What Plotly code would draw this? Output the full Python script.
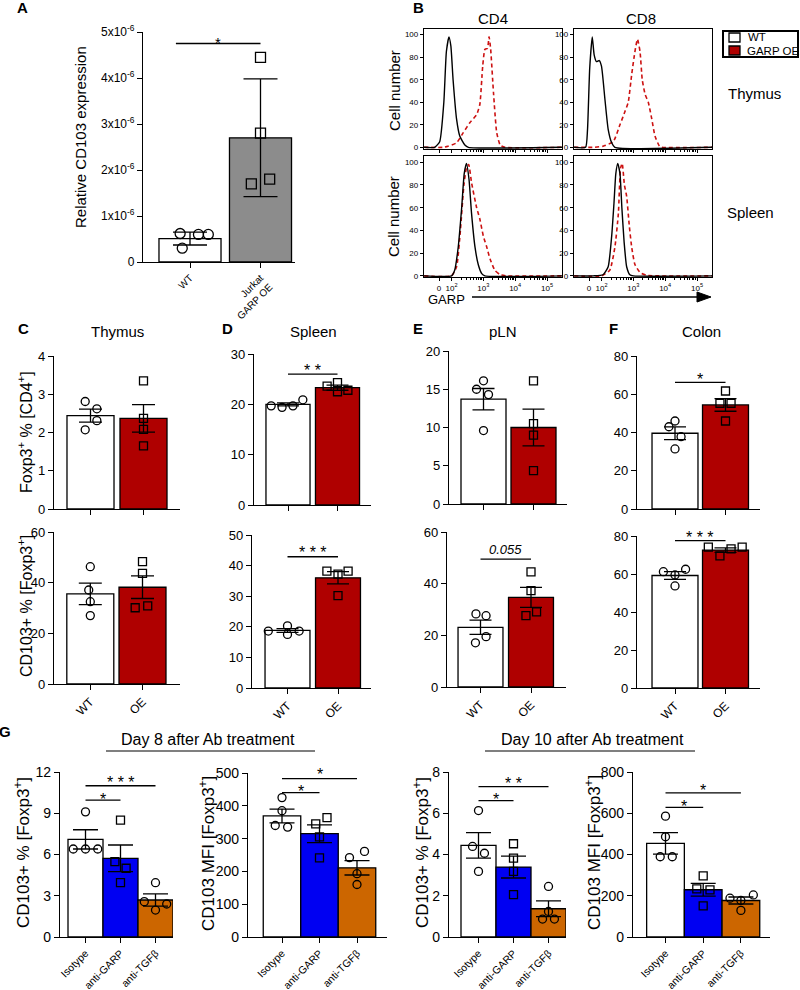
import math
import plotly.graph_objects as go

W, H = 800, 990
FONT = "Liberation Sans, Arial, Helvetica, sans-serif"
RED = "#AF0000"
BLUE = "#0000F2"
ORANGE = "#CC6600"
GRAY = "#8C8C8C"
HRED = "#CC1111"

# ======================= DATA =======================
# Panel A
A_groups = ["WT", "Jurkat<br>GARP OE"]
A_mean = [0.51e-6, 2.70e-6]
A_sem = [0.14e-6, 1.28e-6]
A_pts_wt = [0.62e-6, 0.60e-6, 0.60e-6, 0.30e-6]
A_pts_oe = [4.45e-6, 2.80e-6, 1.70e-6, 1.80e-6]
A_yticks = [0, 1e-6, 2e-6, 3e-6, 4e-6, 5e-6]
A_yticklabels = ["0", "1x10<sup>-6</sup>", "2x10<sup>-6</sup>", "3x10<sup>-6</sup>",
                 "4x10<sup>-6</sup>", "5x10<sup>-6</sup>"]
A_sig = [(-0.2, 1.0, 4.75e-6, "*", 4.86e-6)]

# Panel B histograms (x: GARP intensity in log decades, y: % of max)
B_xticks = [1.61, 2, 3, 4, 5]
B_xticklabels = ["0", "10<sup>2</sup>", "10<sup>3</sup>", "10<sup>4</sup>", "10<sup>5</sup>"]
B_yticks = [0, 20, 40, 60, 80, 100]
B_cd4_thy_wt_x = [1.14, 1.47, 1.63, 1.76, 1.84, 1.92, 1.98, 2.05, 2.16, 2.26, 2.42, 2.53, 5.47]
B_cd4_thy_wt_y = [0, 0, 5, 40, 85, 98, 90, 60, 25, 10, 2, 0, 0]
B_cd4_thy_oe_x = [1.14, 1.74, 1.89, 2.16, 2.37, 2.58, 2.79, 2.89, 2.98, 3.05, 3.13, 3.18, 3.23,
                  3.32, 3.42, 3.53, 3.68, 5.47]
B_cd4_thy_oe_y = [0, 0, 1, 4, 13, 22, 29, 38, 72, 87, 88, 98, 87, 48, 13, 2, 0, 0]
B_cd8_thy_wt_x = [1.14, 1.50, 1.56, 1.63, 1.71, 1.77, 1.84, 1.93, 2.0, 2.11, 2.21, 2.32, 2.42, 5.47]
B_cd8_thy_wt_y = [0, 0, 15, 70, 98, 82, 76, 77, 72, 42, 16, 4, 0, 0]
B_cd8_thy_oe_x = [1.14, 1.74, 2.05, 2.37, 2.58, 2.74, 2.84, 2.95, 3.05, 3.13, 3.21, 3.28, 3.37,
                  3.47, 3.58, 3.68, 3.82, 3.89, 5.47]
B_cd8_thy_oe_y = [0, 0, 1, 5, 20, 32, 40, 65, 85, 96, 85, 60, 47, 40, 25, 10, 1, 0, 0]
B_cd4_spl_wt_x = [1.14, 2.0, 2.1, 2.21, 2.32, 2.4, 2.47, 2.55, 2.63, 2.74, 2.84, 2.95, 3.05, 5.47]
B_cd4_spl_wt_y = [0, 0, 5, 25, 60, 90, 99, 85, 55, 25, 10, 2, 0, 0]
B_cd4_spl_oe_x = [1.14, 2.0, 2.16, 2.28, 2.39, 2.47, 2.54, 2.63, 2.79, 2.89, 3.0, 3.1, 3.21,
                  3.36, 3.53, 3.74, 5.47]
B_cd4_spl_oe_y = [0, 0, 8, 40, 80, 95, 98, 82, 60, 50, 35, 26, 15, 5, 1, 0, 0]
B_cd8_spl_wt_x = [1.14, 1.74, 2.05, 2.21, 2.32, 2.39, 2.45, 2.51, 2.58, 2.64, 2.71, 2.79, 2.89, 3.0, 5.47]
B_cd8_spl_wt_y = [0, 0, 1, 8, 35, 63, 90, 99, 90, 60, 30, 8, 1, 0, 0]
B_cd8_spl_oe_x = [1.14, 2.0, 2.26, 2.42, 2.53, 2.6, 2.65, 2.72, 2.79, 2.87, 2.95, 3.05, 3.21, 3.42, 5.47]
B_cd8_spl_oe_y = [0, 0, 5, 25, 55, 95, 99, 80, 70, 45, 25, 10, 3, 0.5, 0]

# Panels C-F
CF_groups = ["WT", "OE"]
C_top_mean = [2.44, 2.37];  C_top_sem = [0.17, 0.36]
C_top_wt = [2.81, 2.62, 2.31, 2.07];  C_top_oe = [3.35, 2.37, 2.08, 1.65]
D_top_mean = [20.0, 23.3];  D_top_sem = [0.3, 0.5]
D_top_wt = [19.7, 19.4, 19.7, 20.9];  D_top_oe = [23.6, 24.3, 22.5, 22.8]
D_top_sig = [(0, 1, 26.0, "* *", 27.6)]
E_top_mean = [13.7, 10.0];  E_top_sem = [1.4, 2.4]
E_top_wt = [16.1, 15.0, 14.3, 9.6];  E_top_oe = [16.1, 10.5, 9.0, 4.35]
F_top_mean = [39.6, 54.4];  F_top_sem = [3.3, 3.3]
F_top_wt = [46.0, 43.0, 37.8, 31.4];  F_top_oe = [61.7, 55.3, 55.3, 46.0]
F_top_sig = [(0, 1, 66.2, "*", 70.0)]

C_bot_mean = [35.6, 38.2];  C_bot_sem = [4.25, 4.45]
C_bot_wt = [46.3, 37.1, 32.5, 27.0];  C_bot_oe = [48.3, 43.7, 30.1, 30.8]
D_bot_mean = [18.8, 36.0];  D_bot_sem = [0.6, 2.0]
D_bot_wt = [20.3, 18.6, 18.6, 17.5];  D_bot_oe = [38.2, 38.2, 37.2, 30.2]
D_bot_sig = [(0, 1, 42.9, "* * *", 45.6)]
E_bot_mean = [23.1, 34.7];  E_bot_sem = [2.75, 3.85]
E_bot_wt = [28.3, 27.6, 17.1, 19.5];  E_bot_oe = [44.6, 37.3, 27.6, 29.1]
E_bot_sig = [(0, 1, 49.5, "<i>0.055</i>", 53.3)]
F_bot_mean = [59.2, 72.6];  F_bot_sem = [2.0, 1.2]
F_bot_wt = [61.2, 62.5, 59.5, 53.7];  F_bot_oe = [74.1, 74.1, 73.2, 69.5]
F_bot_sig = [(0, 1, 77.6, "* * *", 81.4)]

# Panel G
G_groups = ["Isotype", "anti-GARP", "anti-TGFβ"]
G8_pct_mean = [7.10, 5.72, 2.69];  G8_pct_sem = [0.70, 0.97, 0.44]
G8_pct_pts = [[9.1, 6.4, 6.4, 6.4], [8.5, 5.48, 5.0, 3.95], [3.95, 2.57, 2.4, 1.96]]
G8_pct_sig = [(0, 1, 9.96, "*", 10.3), (0, 2, 11.0, "* * *", 11.5)]
G8_mfi_mean = [369, 315, 211];  G8_mfi_sem = [21, 27, 22]
G8_mfi_pts = [[425, 385, 340, 335], [345, 364, 305, 241], [242, 261, 193, 160]]
G8_mfi_sig = [(0, 1, 440, "*", 455), (0, 2, 483, "*", 508)]
G10_pct_mean = [4.44, 3.39, 1.37];  G10_pct_sem = [0.62, 0.53, 0.38]
G10_pct_pts = [[6.13, 4.39, 4.06, 3.18], [4.52, 3.82, 3.18, 2.05], [2.45, 1.24, 0.87, 0.87]]
G10_pct_sig = [(0, 1, 6.61, "*", 6.84), (0, 2, 7.29, "* *", 7.65)]
G10_mfi_mean = [454, 229, 177];  G10_mfi_sem = [52, 31, 17]
G10_mfi_pts = [[586, 486, 389, 389], [296, 233, 228, 151], [204, 188, 177, 129]]
G10_mfi_sig = [(0, 1, 628, "*", 652), (0, 2, 699, "*", 728)]

# ======================= STYLE / LAYOUT HELPERS =======================
fig = go.Figure()
ANN = []
SHP = []
AX = [0]


def paper(px, py):
    return px / W, 1 - py / H


def text(px, py, t, size, xanchor="center", yanchor="middle", angle=0, bold=False):
    if bold:
        t = "<b>" + t + "</b>"
    x, y = paper(px, py)
    ANN.append(dict(x=x, y=y, xref="paper", yref="paper", text=t, showarrow=False,
                    xanchor=xanchor, yanchor=yanchor, textangle=angle,
                    font=dict(size=size, family=FONT, color="black")))


def axes(x0, x1, yt, yb, xr, yr, xkw=None, ykw=None):
    AX[0] += 1
    k = AX[0]
    s = "" if k == 1 else str(k)
    base = dict(showgrid=False, zeroline=False, showline=True, linecolor="black",
                linewidth=1.3, ticks="outside", tickcolor="black", tickwidth=1.3,
                ticklen=4, automargin=False, fixedrange=True,
                tickfont=dict(family=FONT, color="black"))
    xa = dict(base, domain=[x0 / W, x1 / W], range=xr, anchor="y" + s)
    ya = dict(base, domain=[1 - yb / H, 1 - yt / H], range=yr, anchor="x" + s)
    if xkw:
        xa.update(xkw)
    if ykw:
        ya.update(ykw)
    fig.update_layout({"xaxis" + s: xa, "yaxis" + s: ya})
    return "x" + s, "y" + s


def bar_panel(geom, yr, yticks, means, sems, pts, colors, symbols, jit, labels,
              show_labels, sigs, yfont, xfont, cap, msize, yticktext=None, star_size=16):
    x0, x1, yt, yb, c0, s, bw = geom
    xr = [(x0 - c0) / s, (x1 - c0) / s]
    n = len(means)
    xkw = dict(tickmode="array", tickvals=list(range(n)),
               ticktext=labels if show_labels else [""] * n,
               tickangle=-45, tickfont=dict(size=xfont, family=FONT, color="black"), ticklen=5)
    ykw = dict(tickmode="array", tickvals=yticks,
               tickfont=dict(size=yfont, family=FONT, color="black"), ticklen=5)
    if yticktext:
        ykw["ticktext"] = yticktext
    xa, ya = axes(x0, x1, yt, yb, xr, yr, xkw, ykw)
    fig.add_trace(go.Bar(x=list(range(n)), y=means, width=bw,
                         marker=dict(color=colors, line=dict(color="black", width=1.3)),
                         error_y=dict(type="data", array=sems, visible=True, color="black",
                                      thickness=1.3, width=cap),
                         xaxis=xa, yaxis=ya, hoverinfo="skip"))
    for i in range(n):
        fig.add_trace(go.Scatter(x=[i + d for d in jit[i]], y=pts[i], mode="markers",
                                 marker=dict(symbol=symbols[i], size=msize, color="black",
                                             line=dict(color="black", width=1.3)),
                                 cliponaxis=False, xaxis=xa, yaxis=ya, hoverinfo="skip"))
    for (a, b, ly, t, ty) in sigs:
        fig.add_trace(go.Scatter(x=[a, b], y=[ly, ly], mode="lines",
                                 line=dict(color="black", width=1.3),
                                 xaxis=xa, yaxis=ya, hoverinfo="skip"))
        is_star = "*" in t
        # position in axis-domain units so texts above the axis top are still drawn
        yfrac = (ty - yr[0]) / (yr[1] - yr[0])
        ANN.append(dict(x=(a + b) / 2, y=yfrac, xref=xa, yref=ya + " domain", text=t,
                        showarrow=False, xanchor="center", yanchor="middle",
                        yshift=-4 if is_star else 0,
                        font=dict(size=star_size if is_star else 13, family=FONT, color="black")))
    return xa, ya


def hist_panel(x0, x1, yt, yb, yr, wt_x, wt_y, oe_x, oe_y, show_xlabels):
    minor_vals = [d + math.log10(k) for d in (2, 3, 4) for k in range(2, 10)]
    xkw = dict(mirror=True, tickmode="array", tickvals=B_xticks,
               ticktext=B_xticklabels if show_xlabels else [""] * len(B_xticks),
               ticklen=3, tickwidth=1, tickfont=dict(size=8, family=FONT, color="black"),
               minor=dict(tickmode="array", tickvals=minor_vals, ticks="outside",
                          ticklen=2, tickwidth=1, tickcolor="black"))
    ykw = dict(mirror=True, tickmode="array", tickvals=B_yticks, ticklen=3, tickwidth=1,
               tickfont=dict(size=8, family=FONT, color="black"))
    xa, ya = axes(x0, x1, yt, yb, [1.137, 5.47], yr, xkw, ykw)
    fig.add_trace(go.Scatter(x=oe_x, y=oe_y, mode="lines",
                             line=dict(color=HRED, width=1.6, dash="4px,3px", shape="spline", smoothing=0.5),
                             xaxis=xa, yaxis=ya, hoverinfo="skip"))
    fig.add_trace(go.Scatter(x=wt_x, y=wt_y, mode="lines",
                             line=dict(color="black", width=1.4, shape="spline", smoothing=0.5),
                             xaxis=xa, yaxis=ya, hoverinfo="skip"))


# ======================= PANEL A =======================
bar_panel((143, 295, 32, 262, 190, 70.5, 0.88), [0, 5e-6], A_yticks, A_mean, A_sem,
          [A_pts_wt, A_pts_oe], ["white", GRAY], ["circle-open", "square-open"],
          [[-0.14, 0.12, 0.26, -0.11], [0, 0, -0.13, 0.13]], A_groups, True, A_sig,
          12, 10, 17, 10, yticktext=A_yticklabels, star_size=15)
text(22, 7, "A", 15, bold=True)
text(80, 137, "Relative CD103 expression", 15, angle=-90)

# ======================= PANEL B =======================
hist_panel(424, 562, 29, 149, [-1.5, 105], B_cd4_thy_wt_x, B_cd4_thy_wt_y,
           B_cd4_thy_oe_x, B_cd4_thy_oe_y, False)
hist_panel(574, 712, 29, 149, [-1.5, 105], B_cd8_thy_wt_x, B_cd8_thy_wt_y,
           B_cd8_thy_oe_x, B_cd8_thy_oe_y, False)
hist_panel(424, 562, 156, 277, [-1.0, 105.5], B_cd4_spl_wt_x, B_cd4_spl_wt_y,
           B_cd4_spl_oe_x, B_cd4_spl_oe_y, True)
hist_panel(574, 712, 156, 277, [-1.0, 105.5], B_cd8_spl_wt_x, B_cd8_spl_wt_y,
           B_cd8_spl_oe_x, B_cd8_spl_oe_y, True)
text(418, 7, "B", 15, bold=True)
text(493, 18, "CD4", 15)
text(641, 18, "CD8", 15)
text(754, 93, "Thymus", 15)
text(750, 212, "Spleen", 15)
text(394, 91, "Cell number", 15, angle=-90)
text(394, 217, "Cell number", 15, angle=-90)
text(446, 300, "GARP", 13)


def rect(x0, y0, x1, y1, fill, lw=1.3):
    a0, b0 = paper(x0, y0)
    a1, b1 = paper(x1, y1)
    SHP.append(dict(type="rect", xref="paper", yref="paper", x0=a0, y0=b0, x1=a1, y1=b1,
                    fillcolor=fill, line=dict(color="black", width=lw)))


def hline(x0, x1, y, lw=1.2):
    a0, b = paper(x0, y)
    a1, _ = paper(x1, y)
    SHP.append(dict(type="line", xref="paper", yref="paper", x0=a0, y0=b, x1=a1, y1=b,
                    line=dict(color="black", width=lw)))


# legend of B
rect(723, 31, 798, 57, "white", 2)
rect(729, 33, 740, 42, "white", 1.3)
rect(729, 46, 740, 55, RED, 1.3)
text(746, 37.5, "WT", 11.5, xanchor="left")
text(745, 50.5, "GARP OE", 11.5, xanchor="left")

# GARP arrow
hline(472, 700, 297, 1.3)
p1 = paper(697, 292)
p2 = paper(711, 297)
p3 = paper(697, 302)
SHP.append(dict(type="path", xref="paper", yref="paper",
                path=f"M {p1[0]},{p1[1]} L {p2[0]},{p2[1]} L {p3[0]},{p3[1]} Z",
                fillcolor="black", line=dict(color="black", width=1)))

# ======================= PANELS C-F =======================
circ_sq = ["circle-open", "square-open"]
wo = ["white", RED]
# top row
bar_panel((54, 180, 356, 509, 90.5, 53, 0.887), [0, 4], [0, 1, 2, 3, 4], C_top_mean, C_top_sem,
          [C_top_wt, C_top_oe], wo, circ_sq, [[-0.1, 0.12, 0.12, -0.1], [0, 0, 0, 0]],
          CF_groups, False, [], 13, 12, 11.5, 8)
bar_panel((254, 371, 354, 505, 288, 49.5, 0.89), [0, 30], [0, 10, 20, 30], D_top_mean, D_top_sem,
          [D_top_wt, D_top_oe], wo, circ_sq,
          [[-0.34, -0.12, 0.1, 0.3], [-0.21, 0, 0, 0.21]],
          CF_groups, False, D_top_sig, 13, 12, 11, 8)
bar_panel((449, 567, 351, 504, 483.5, 50, 0.9), [0, 20], [0, 5, 10, 15, 20], E_top_mean, E_top_sem,
          [E_top_wt, E_top_oe], wo, circ_sq,
          [[0, -0.14, 0.1, 0], [0, 0, 0, 0]],
          CF_groups, False, [], 13, 12, 11, 8)
bar_panel((637, 760, 356, 509, 675, 50.5, 0.91), [0, 80], [0, 20, 40, 60, 80], F_top_mean, F_top_sem,
          [F_top_wt, F_top_oe], wo, circ_sq,
          [[0, -0.12, 0.12, 0], [0, -0.11, 0.11, 0]],
          CF_groups, False, F_top_sig, 13, 12, 11, 8)
# bottom row
bar_panel((54, 180, 532, 684, 90.3, 52.2, 0.9), [0, 60], [0, 20, 40, 60], C_bot_mean, C_bot_sem,
          [C_bot_wt, C_bot_oe], wo, circ_sq,
          [[0, -0.03, 0, 0], [0, 0, -0.14, 0.1]],
          CF_groups, True, [], 13, 12, 11.5, 8)
bar_panel((252, 371, 535, 688, 287.5, 50.5, 0.89), [0, 50], [0, 10, 20, 30, 40, 50], D_bot_mean, D_bot_sem,
          [D_bot_wt, D_bot_oe], wo, circ_sq,
          [[0, -0.38, 0.23, 0], [-0.22, 0.2, 0, 0]],
          CF_groups, True, D_bot_sig, 13, 12, 11, 8)
bar_panel((447, 566, 532, 687, 480.5, 50.5, 0.89), [0, 60], [0, 20, 40, 60], E_bot_mean, E_bot_sem,
          [E_bot_wt, E_bot_oe], wo, circ_sq,
          [[-0.09, 0.11, -0.1, 0.11], [0, 0, -0.1, 0.11]],
          CF_groups, True, E_bot_sig, 13, 12, 11, 8)
bar_panel((637, 760, 536, 688, 675, 50.5, 0.91), [0, 80], [0, 20, 40, 60, 80], F_bot_mean, F_bot_sem,
          [F_bot_wt, F_bot_oe], wo, circ_sq,
          [[-0.23, 0.21, 0, 0], [-0.34, 0.33, 0.11, -0.11]],
          CF_groups, True, F_bot_sig, 13, 12, 11, 8)

text(23, 328, "C", 15, bold=True)
text(227, 328, "D", 15, bold=True)
text(418, 328, "E", 15, bold=True)
text(613, 328, "F", 15, bold=True)
text(117, 332, "Thymus", 15)
text(313, 332, "Spleen", 15)
text(503, 332, "pLN", 15)
text(701, 332, "Colon", 15)
text(25, 432, "Foxp3<sup>+</sup> % [CD4<sup>+</sup>]", 16, angle=-90)
text(25, 606, "CD103+ % [Foxp3<sup>+</sup>]", 16, angle=-90)

# ======================= PANEL G =======================
g_cols = ["white", BLUE, ORANGE]
g_sym = ["circle-open", "square-open", "circle-open"]
bar_panel((60, 173, 772, 937, 85.5, 35, 1.0), [0, 12], [0, 3, 6, 9, 12], G8_pct_mean, G8_pct_sem,
          G8_pct_pts, g_cols, g_sym,
          [[0, -0.35, 0, 0.35], [0, -0.16, 0.16, 0], [0, -0.32, 0.32, 0]],
          G_groups, True, G8_pct_sig, 14, 10.5, 12.5, 8)
bar_panel((248, 387, 773, 937, 282, 37.5, 1.0), [0, 500], [0, 100, 200, 300, 400, 500],
          G8_mfi_mean, G8_mfi_sem, G8_mfi_pts, g_cols, g_sym,
          [[0, 0, -0.18, 0.15], [-0.1, 0.2, 0, 0], [-0.2, 0.2, 0, 0]],
          G_groups, True, G8_mfi_sig, 14, 10.5, 12.5, 8)
bar_panel((449, 566, 772, 937, 478.5, 35, 1.0), [0, 8], [0, 2, 4, 6, 8], G10_pct_mean, G10_pct_sem,
          G10_pct_pts, g_cols, g_sym,
          [[0, -0.17, 0.17, 0], [0, 0, 0, 0], [0, 0, -0.17, 0.17]],
          G_groups, True, G10_pct_sig, 14, 10.5, 12.5, 8)
bar_panel((633, 770, 772, 937, 665.5, 37.7, 1.0), [0, 800], [0, 200, 400, 600, 800],
          G10_mfi_mean, G10_mfi_sem, G10_mfi_pts, g_cols, g_sym,
          [[0, 0, -0.14, 0.18], [0, -0.17, 0.18, 0], [0.33, -0.29, 0, 0]],
          G_groups, True, G10_mfi_sig, 14, 10.5, 12.5, 8)

text(5, 731, "G", 15, bold=True)
text(208, 739, "Day 8 after Ab treatment", 16)
hline(106, 315, 751, 1.2)
text(592, 739, "Day 10 after Ab treatment", 16)
hline(485, 695, 751, 1.2)
text(22, 853, "CD103+ % [Foxp3<sup>+</sup>]", 17, angle=-90)
text(207, 853, "CD103 MFI [Foxp3<sup>+</sup>]", 17, angle=-90)
text(421, 853, "CD103+ % [Foxp3<sup>+</sup>]", 17, angle=-90)
text(593, 853, "CD103 MFI [Foxp3<sup>+</sup>]", 17, angle=-90)

fig.update_layout(width=W, height=H, margin=dict(l=0, r=0, t=0, b=0),
                  paper_bgcolor="white", plot_bgcolor="white", showlegend=False,
                  template="none", font=dict(family=FONT, color="black"),
                  annotations=ANN, shapes=SHP)
# remove the browser's default 8px page margin so the 800x990 figure fills the window
fig.write_html("out.html", config={"displayModeBar": False},
               post_script="document.body.style.margin='0';document.body.style.padding='0';"
                           "document.body.style.overflow='hidden';")
